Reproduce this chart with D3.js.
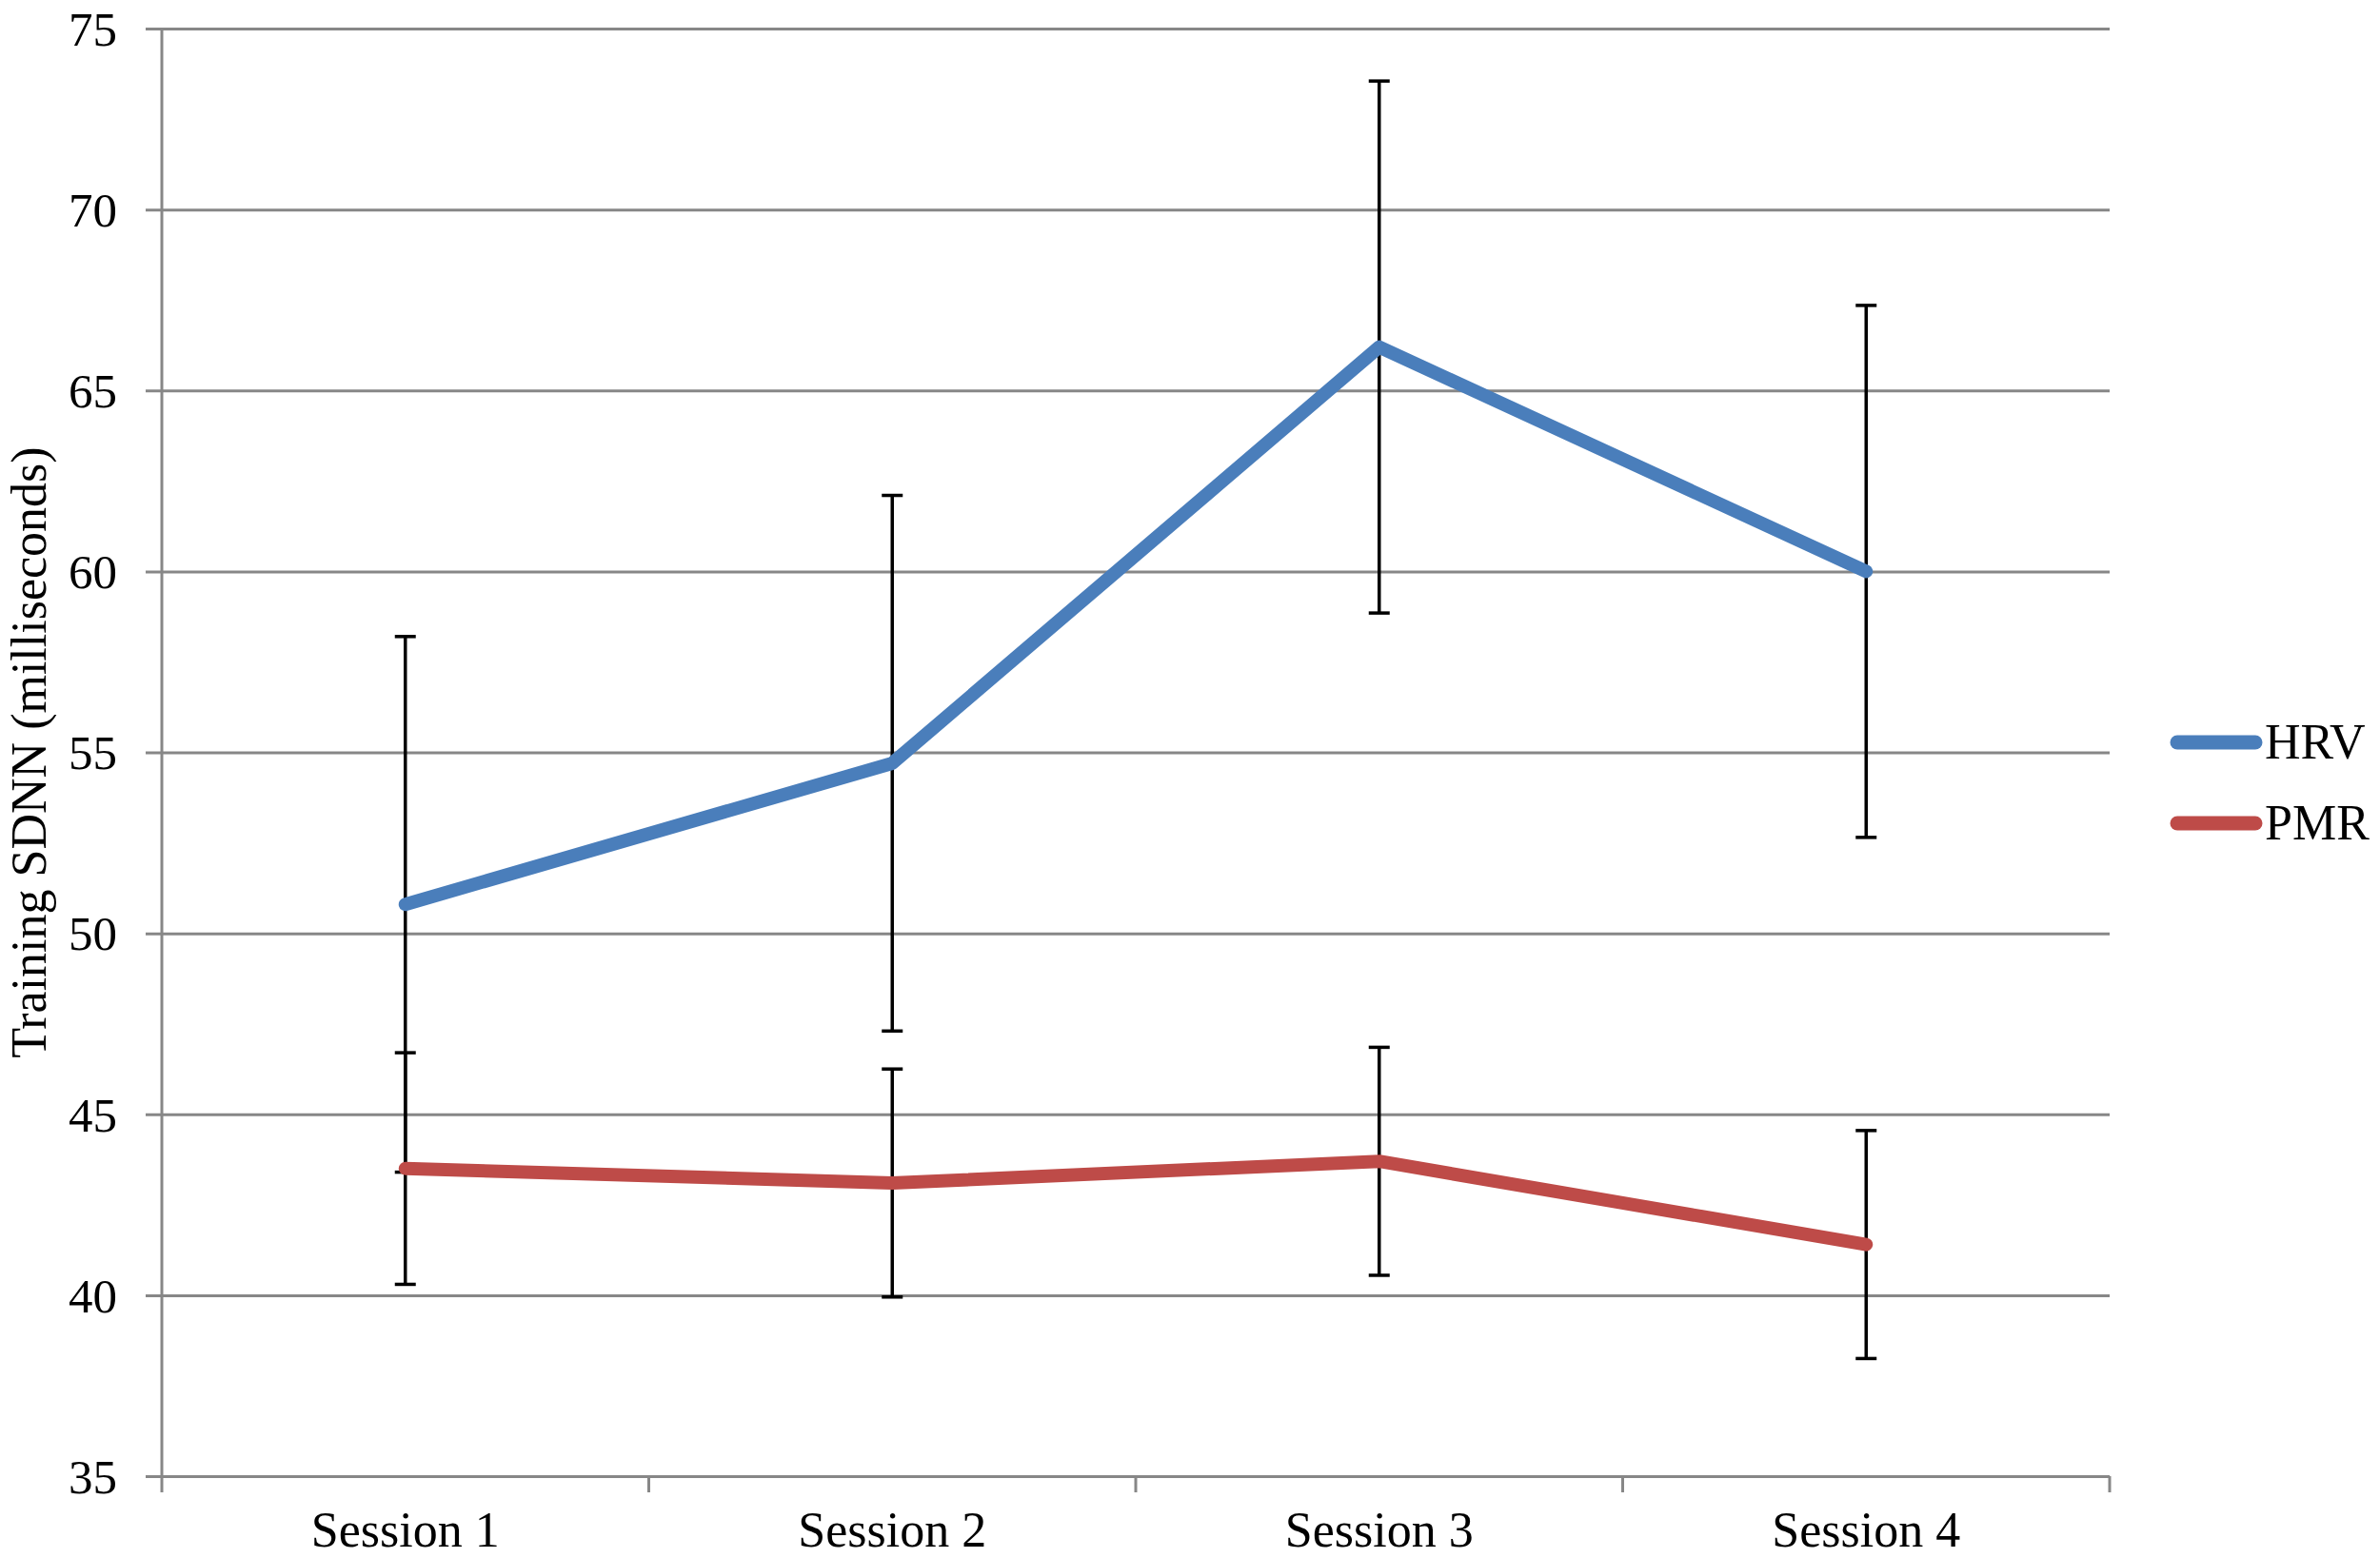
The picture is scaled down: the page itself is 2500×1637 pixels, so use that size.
<!DOCTYPE html>
<html>
<head>
<meta charset="utf-8">
<script src="https://cdn.jsdelivr.net/npm/d3@7"></script>
<style>
html,body{margin:0;padding:0;background:#fff;}
svg{display:block;}
text{font-family:"Liberation Serif","Times New Roman",serif;fill:#000;}
</style>
</head>
<body>
<svg id="chart" width="2500" height="1637"></svg>
<script>
const categories = ["Session 1", "Session 2", "Session 3", "Session 4"];
const hrvValues = [50.8, 54.7, 66.2, 60.0];
const hrvErrors = [7.4, 7.4, 7.35, 7.35];
const pmrValues = [43.5, 43.1, 43.7, 41.4];
const pmrErrors = [3.2, 3.15, 3.15, 3.15];
const yTicks = [35, 40, 45, 50, 55, 60, 65, 70, 75];
const seriesNames = ["HRV", "PMR"];
const seriesColors = ["#4a7ebb", "#be4b48"];

const svg = d3.select("#chart");
const m = {left: 170, right: 2216, top: 30, bottom: 1551};

const x = d3.scaleBand().domain(categories).range([m.left, m.right]).padding(0);
const y = d3.scaleLinear().domain([35, 75]).range([m.bottom, m.top]);
const gridColor = "#878787";

// gridlines + y ticks
const yAxis = d3.axisLeft(y).tickValues(yTicks).tickSize(m.right - m.left + 17).tickFormat(d3.format("d")).tickPadding(30);
const gy = svg.append("g").attr("transform", `translate(${m.right},0)`).call(yAxis);
gy.select(".domain").remove();
gy.selectAll(".tick line").attr("stroke", gridColor).attr("stroke-width", 3);
gy.selectAll(".tick text").attr("font-size", 51).attr("dy", "0.34em")
  .attr("font-family", "Liberation Serif");

// y axis line
svg.append("line").attr("x1", m.left).attr("x2", m.left).attr("y1", m.top).attr("y2", m.bottom)
  .attr("stroke", gridColor).attr("stroke-width", 3);

// x axis
const boundaries = categories.map(c => x(c)).concat([m.right]);
svg.append("g").selectAll("line").data(boundaries).join("line")
  .attr("x1", d => d).attr("x2", d => d).attr("y1", m.bottom).attr("y2", m.bottom + 17)
  .attr("stroke", gridColor).attr("stroke-width", 3);
svg.append("g").selectAll("text").data(categories).join("text")
  .attr("x", d => x(d) + x.bandwidth() / 2).attr("y", 1625)
  .attr("text-anchor", "middle").attr("font-size", 52).text(d => d);

// axis title
svg.append("text").attr("transform", `translate(48,${(m.top + m.bottom) / 2}) rotate(-90)`)
  .attr("text-anchor", "middle").attr("font-size", 52).text("Training SDNN (milliseconds)");

const cx = d => x(d) + x.bandwidth() / 2;
const series = [
  {name: seriesNames[0], values: hrvValues, errors: hrvErrors, color: seriesColors[0]},
  {name: seriesNames[1], values: pmrValues, errors: pmrErrors, color: seriesColors[1]}
];

// error bars
series.forEach(s => {
  const g = svg.append("g").attr("stroke", "#000").attr("stroke-width", 3.5);
  categories.forEach((c, i) => {
    const hi = y(s.values[i] + s.errors[i]), lo = y(s.values[i] - s.errors[i]);
    g.append("line").attr("x1", cx(c)).attr("x2", cx(c)).attr("y1", hi).attr("y2", lo);
    g.append("line").attr("x1", cx(c) - 11).attr("x2", cx(c) + 11).attr("y1", hi).attr("y2", hi);
    g.append("line").attr("x1", cx(c) - 11).attr("x2", cx(c) + 11).attr("y1", lo).attr("y2", lo);
  });
});

// lines
const line = d3.line().x((d, i) => cx(categories[i])).y(d => y(d));
series.forEach(s => {
  svg.append("path").datum(s.values).attr("d", line).attr("fill", "none")
    .attr("stroke", s.color).attr("stroke-width", 14)
    .attr("stroke-linecap", "round").attr("stroke-linejoin", "round");
});

// legend
const legY = [780, 865];
series.forEach((s, i) => {
  svg.append("line").attr("x1", 2287).attr("x2", 2369).attr("y1", legY[i]).attr("y2", legY[i])
    .attr("stroke", s.color).attr("stroke-width", 15).attr("stroke-linecap", "round");
  svg.append("text").attr("x", 2379).attr("y", legY[i] + 17).attr("font-size", 52).text(s.name);
});
</script>
</body>
</html>
